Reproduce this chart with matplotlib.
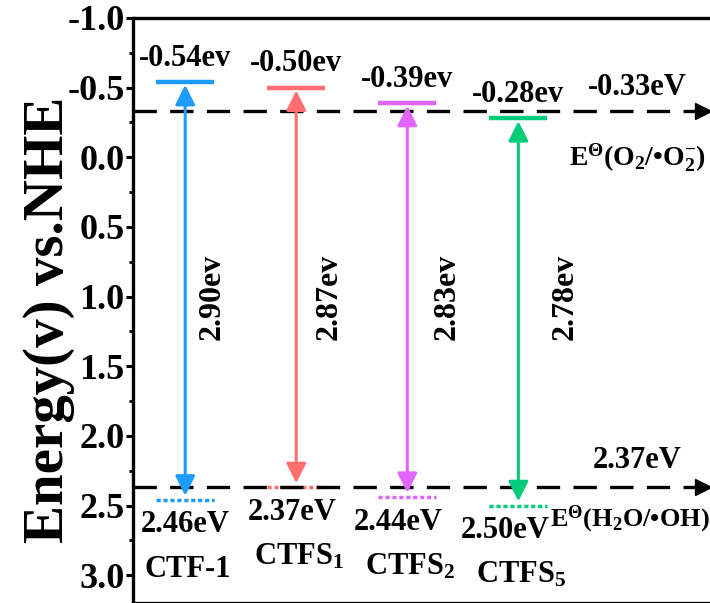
import matplotlib
matplotlib.use("Agg")
import matplotlib.pyplot as plt
import numpy as np

# =========================
# DATA
# =========================
samples = ["CTF-1", "CTFS$_1$", "CTFS$_2$", "CTFS$_5$"]
cb = [-0.54, -0.50, -0.39, -0.28]          # conduction band (eV)
vb = [2.46, 2.37, 2.44, 2.50]              # valence band (eV)
gap = [2.90, 2.87, 2.83, 2.78]             # band gap (eV)
colors = ["#1E9BFF", "#FF6E6E", "#E066FF", "#00CC7A"]

e_o2 = -0.33     # E(O2/.O2-)
e_oh = 2.37      # E(H2O/.OH)

# =========================
# STYLE
# =========================
plt.rcParams["font.family"] = ["Liberation Serif", "DejaVu Serif"]
plt.rcParams["font.weight"] = "bold"
plt.rcParams["mathtext.fontset"] = "custom"
plt.rcParams["mathtext.rm"] = "Liberation Serif:bold"
plt.rcParams["mathtext.bf"] = "Liberation Serif:bold"
plt.rcParams["mathtext.it"] = "Liberation Serif:italic:bold"

fig = plt.figure(figsize=(7.10, 6.03), dpi=100)
ax = fig.add_axes([133 / 710, 0.0, 663 / 710, 585 / 603])

x = np.arange(len(samples))
hw = 0.26
fs = 22

for i in range(len(samples)):
    c = colors[i]
    # CB level
    ax.plot([x[i] - hw, x[i] + hw], [cb[i], cb[i]], color=c, lw=3.2, solid_capstyle="butt")
    # VB level
    ax.plot([x[i] - hw, x[i] + hw], [vb[i], vb[i]], color=c, lw=2.5, ls=(0, (1.2, 0.8)))
    # band gap arrow
    ax.annotate("", xy=(x[i], vb[i] - 0.03), xytext=(x[i], cb[i] + 0.02),
                arrowprops=dict(arrowstyle="<|-|>,head_length=0.6,head_width=0.3", color=c, lw=2.2,
                                mutation_scale=20, shrinkA=0, shrinkB=0))
    ax.text(x[i], cb[i] - 0.17, f"{cb[i]:.2f}ev", ha="center", va="center",
            fontsize=fs, fontweight="bold")
    ax.text(x[i] - 0.04 * i, vb[i] + 0.18, f"{vb[i]:.2f}eV", ha="center", va="center",
            fontsize=fs, fontweight="bold")
    ax.text(x[i] + 0.02, vb[i] + 0.5, samples[i], ha="center", va="center",
            fontsize=fs, fontweight="bold")
    ax.text(x[i] + 0.24 + 0.06 * i, 1.0, f"{gap[i]:.2f}ev", ha="center", va="center",
            rotation=90, fontsize=23, fontweight="bold")

# redox potential dashed lines with arrow heads
x_end = 4.66
for e in [e_o2, e_oh]:
    ax.plot([-0.47, x_end], [e, e], color="black", lw=2.4, ls=(0, (7, 4)))
    ax.plot([x_end], [e], marker=">", color="black", markersize=11, clip_on=False)

ax.text(4.07, e_o2 - 0.17, f"{e_o2:.2f}eV", ha="center", va="center", fontsize=fs, fontweight="bold")
ax.text(4.07, e_o2 + 0.33, r"$\mathrm{E^{Θ}(O_2/•O_2^{-})}$", ha="center", va="center", fontsize=20)
ax.text(4.07, e_oh - 0.19, f"{e_oh:.2f}eV", ha="center", va="center", fontsize=fs, fontweight="bold")
ax.text(4.72, e_oh + 0.23, r"$\mathrm{E^{Θ}(H_2O/•OH)}$", ha="right", va="center", fontsize=19)

# =========================
# AXES
# =========================
ax.set_xlim(-0.47, 5.5)
ax.set_ylim(3.2, -1.0)
ax.set_yticks(np.arange(-1.0, 3.01, 0.5))
ax.set_yticks(np.arange(-0.75, 3.2, 0.5), minor=True)
ax.set_yticklabels([f"{v:.1f}" for v in np.arange(-1.0, 3.01, 0.5)], fontsize=26, fontweight="bold")
ax.tick_params(axis="y", which="major", direction="out", length=5, width=2.2, pad=1)
ax.tick_params(axis="y", which="minor", direction="out", length=3, width=2)
ax.set_xticks([])
for s in ax.spines.values():
    s.set_linewidth(2.4)
ax.set_ylabel("Energy(v) vs.NHE", fontsize=41, fontweight="bold")
ax.yaxis.set_label_coords(-0.088, 0.484)

fig.savefig("out.png", dpi=100)
